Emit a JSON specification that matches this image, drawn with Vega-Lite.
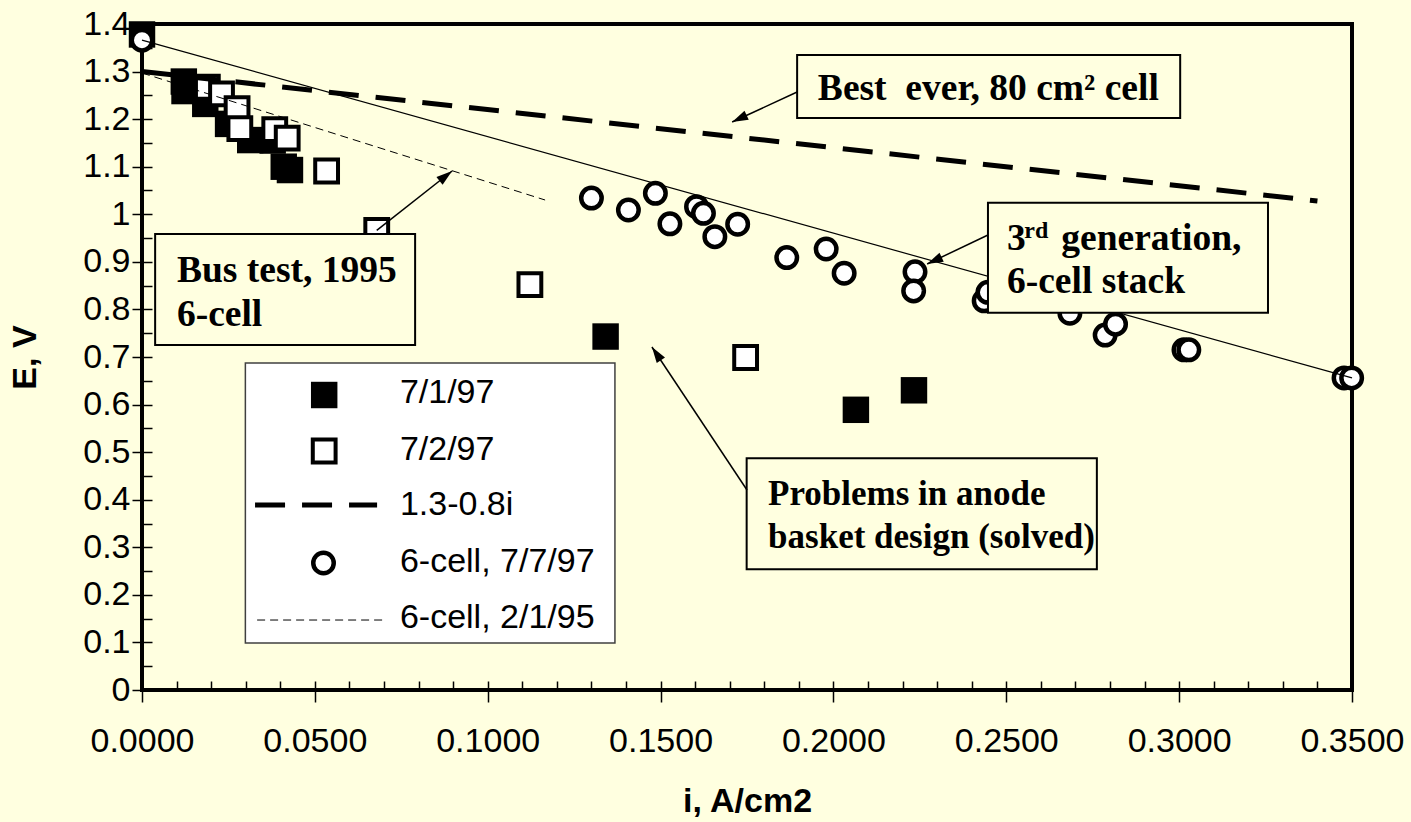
{
  "$schema": "https://vega.github.io/schema/vega-lite/v6.json",
  "width": 1210,
  "height": 666,
  "autosize": "none",
  "padding": {"left": 142, "top": 24, "right": 59, "bottom": 132},
  "background": "#FFFFE0",
  "config": {
    "view": {"stroke": "#000000", "strokeWidth": 4, "fill": "#FFFFE0"},
    "axis": {
      "grid": false,
      "domain": false,
      "labelFont": "Liberation Sans",
      "labelFontSize": 34,
      "labelColor": "#000000",
      "tickColor": "#000000",
      "tickWidth": 1.5,
      "titleFont": "Liberation Sans",
      "titleFontSize": 34,
      "titleFontWeight": "bold",
      "titleColor": "#000000"
    }
  },
  "datasets": {
    "obs": [
      {"series": "7/1/97", "i": 0.0, "E": 1.378},
      {"series": "7/1/97", "i": 0.0121, "E": 1.279},
      {"series": "7/1/97", "i": 0.0123, "E": 1.259},
      {"series": "7/1/97", "i": 0.0183, "E": 1.232},
      {"series": "7/1/97", "i": 0.0249, "E": 1.19},
      {"series": "7/1/97", "i": 0.0313, "E": 1.156},
      {"series": "7/1/97", "i": 0.0378, "E": 1.155},
      {"series": "7/1/97", "i": 0.041, "E": 1.1},
      {"series": "7/1/97", "i": 0.0428, "E": 1.093},
      {"series": "7/1/97", "i": 0.1341, "E": 0.743},
      {"series": "7/1/97", "i": 0.2065, "E": 0.589},
      {"series": "7/1/97", "i": 0.2233, "E": 0.63},
      {"series": "7/2/97", "i": 0.0189, "E": 1.267},
      {"series": "7/2/97", "i": 0.023, "E": 1.253},
      {"series": "7/2/97", "i": 0.0275, "E": 1.222},
      {"series": "7/2/97", "i": 0.0283, "E": 1.18},
      {"series": "7/2/97", "i": 0.0384, "E": 1.178},
      {"series": "7/2/97", "i": 0.042, "E": 1.16},
      {"series": "7/2/97", "i": 0.0534, "E": 1.091},
      {"series": "7/2/97", "i": 0.0679, "E": 0.966},
      {"series": "7/2/97", "i": 0.1122, "E": 0.852},
      {"series": "7/2/97", "i": 0.1746, "E": 0.699},
      {"series": "6-cell, 7/7/97", "i": 0.0, "E": 1.366},
      {"series": "6-cell, 7/7/97", "i": 0.13, "E": 1.034},
      {"series": "6-cell, 7/7/97", "i": 0.1407, "E": 1.009},
      {"series": "6-cell, 7/7/97", "i": 0.1485, "E": 1.044},
      {"series": "6-cell, 7/7/97", "i": 0.1527, "E": 0.98},
      {"series": "6-cell, 7/7/97", "i": 0.1604, "E": 1.016},
      {"series": "6-cell, 7/7/97", "i": 0.1624, "E": 1.002},
      {"series": "6-cell, 7/7/97", "i": 0.1657, "E": 0.953},
      {"series": "6-cell, 7/7/97", "i": 0.1723, "E": 0.979},
      {"series": "6-cell, 7/7/97", "i": 0.1865, "E": 0.909},
      {"series": "6-cell, 7/7/97", "i": 0.1979, "E": 0.927},
      {"series": "6-cell, 7/7/97", "i": 0.2031, "E": 0.876},
      {"series": "6-cell, 7/7/97", "i": 0.2236, "E": 0.879},
      {"series": "6-cell, 7/7/97", "i": 0.2232, "E": 0.839},
      {"series": "6-cell, 7/7/97", "i": 0.2436, "E": 0.818},
      {"series": "6-cell, 7/7/97", "i": 0.2447, "E": 0.836},
      {"series": "6-cell, 7/7/97", "i": 0.2684, "E": 0.792},
      {"series": "6-cell, 7/7/97", "i": 0.2786, "E": 0.746},
      {"series": "6-cell, 7/7/97", "i": 0.2816, "E": 0.769},
      {"series": "6-cell, 7/7/97", "i": 0.3014, "E": 0.715},
      {"series": "6-cell, 7/7/97", "i": 0.3028, "E": 0.715},
      {"series": "6-cell, 7/7/97", "i": 0.3477, "E": 0.656},
      {"series": "6-cell, 7/7/97", "i": 0.3499, "E": 0.656},
      {"series": "7/1/97", "part": "key", "i": 0.0527, "E": 0.6201},
      {"series": "7/2/97", "part": "key", "i": 0.0527, "E": 0.5024},
      {"series": "6-cell, 7/7/97", "part": "key", "i": 0.0525, "E": 0.267}
    ],
    "lines": [
      {"series": "1.3-0.8i", "part": "data", "i": 0.0, "E": 1.3},
      {"series": "1.3-0.8i", "part": "data", "i": 0.34, "E": 1.028},
      {"series": "1.3-0.8i", "part": "key", "i": 0.0327, "E": 0.3889},
      {"series": "1.3-0.8i", "part": "key", "i": 0.068, "E": 0.3889},
      {"series": "6-cell, 2/1/95", "part": "data", "i": 0.0, "E": 1.297},
      {"series": "6-cell, 2/1/95", "part": "data", "i": 0.1166, "E": 1.03},
      {"series": "6-cell, 2/1/95", "part": "key", "i": 0.0333, "E": 0.1471},
      {"series": "6-cell, 2/1/95", "part": "key", "i": 0.0697, "E": 0.1471},
      {"series": "trend", "part": "data", "i": 0.0, "E": 1.366},
      {"series": "trend", "part": "data", "i": 0.35, "E": 0.656}
    ],
    "boxes": [
      {"name": "legend", "i": 0.0299, "i2": 0.1368, "E": 0.6874, "E2": 0.0988},
      {"name": "best", "i": 0.1895, "i2": 0.3003, "E": 1.3349, "E2": 1.2024},
      {"name": "bus", "i": 0.0038, "i2": 0.079, "E": 0.9586, "E2": 0.7252},
      {"name": "gen3", "i": 0.2447, "i2": 0.3257, "E": 1.0244, "E2": 0.7931},
      {"name": "problems", "i": 0.1749, "i2": 0.2762, "E": 0.4871, "E2": 0.2537}
    ],
    "notes": [
      {"box": "best", "label": "Best\u00a0 ever, 80 cm\u00b2 cell", "i": 0.1955, "E": 1.2394},
      {"box": "bus", "label": "Bus test, 1995", "i": 0.0101, "E": 0.8583},
      {"box": "bus", "label": "6-cell", "i": 0.0101, "E": 0.7652},
      {"box": "gen3", "label": "3", "i": 0.2502, "E": 0.9249},
      {"box": "gen3", "label": "generation,", "i": 0.2659, "E": 0.9249},
      {"box": "gen3", "label": "6-cell stack", "i": 0.2502, "E": 0.8339},
      {"box": "problems", "label": "Problems in anode", "i": 0.1811, "E": 0.3889},
      {"box": "problems", "label": "basket design (solved)", "i": 0.1811, "E": 0.2979}
    ],
    "sups": [
      {"label": "rd", "i": 0.2552, "E": 0.9495}
    ],
    "keyLabels": [
      {"label": "7/1/97", "i": 0.0746, "E": 0.6026},
      {"label": "7/2/97", "i": 0.0746, "E": 0.4835},
      {"label": "1.3-0.8i", "i": 0.0746, "E": 0.3679},
      {"label": "6-cell, 7/7/97", "i": 0.0746, "E": 0.2487},
      {"label": "6-cell, 2/1/95", "i": 0.0746, "E": 0.1297}
    ],
    "arrows": [
      {"name": "best", "i": 0.1895, "E": 1.257, "i2": 0.1707, "E2": 1.194},
      {"name": "bus", "i": 0.0679, "E": 0.966, "i2": 0.0897, "E2": 1.091},
      {"name": "gen3", "i": 0.2447, "E": 0.9565, "i2": 0.2271, "E2": 0.8955},
      {"name": "problems", "i": 0.175, "E": 0.4204, "i2": 0.1475, "E2": 0.721}
    ]
  },
  "encoding": {
    "x": {"field": "i", "type": "quantitative", "scale": {"domain": [0, 0.35], "nice": false, "zero": false}, "axis": null},
    "y": {"field": "E", "type": "quantitative", "scale": {"domain": [0, 1.4], "nice": false, "zero": false}, "axis": null}
  },
  "resolve": {"axis": {"x": "independent", "y": "independent"}},
  "layer": [
    {
      "data": {"name": "boxes"},
      "transform": [{"filter": "datum.name === 'legend'"}],
      "mark": {"type": "rect", "fill": "#FFFFFF", "stroke": "#404040", "strokeWidth": 1.5},
      "encoding": {"x2": {"field": "i2"}, "y2": {"field": "E2"}}
    },
    {
      "data": {"name": "obs"},
      "transform": [{"filter": "datum.series === '7/1/97'"}],
      "mark": {"type": "point", "shape": "square", "filled": true, "fill": "#000000", "strokeWidth": 0, "size": 700, "opacity": 1},
      "encoding": {
        "x": {"field": "i", "type": "quantitative", "scale": {"domain": [0, 0.35], "nice": false, "zero": false},
          "axis": {"orient": "bottom", "values": [0, 0.05, 0.1, 0.15, 0.2, 0.25, 0.3, 0.35], "format": ".4f", "tickSize": 12, "labelPadding": 22, "labelFlush": false, "labelOverlap": false, "title": "i, A/cm2", "titleY": 121, "titleBaseline": "alphabetic"}},
        "y": {"field": "E", "type": "quantitative", "scale": {"domain": [0, 1.4], "nice": false, "zero": false},
          "axis": {"orient": "left", "values": [0, 0.1, 0.2, 0.3, 0.4, 0.5, 0.6, 0.7, 0.8, 0.9, 1, 1.1, 1.2, 1.3, 1.4], "format": "~g", "tickSize": 10, "labelPadding": 2, "labelFlush": false, "labelOverlap": false, "title": "E, V", "titleAngle": 270, "titleX": -107, "titleY": 333, "titleAlign": "center", "titleBaseline": "alphabetic"}}
      }
    },
    {
      "data": {"name": "obs"},
      "transform": [{"filter": "datum.series === '7/2/97'"}],
      "mark": {"type": "point", "shape": "square", "filled": true, "fill": "#FFFFFF", "stroke": "#000000", "strokeWidth": 4, "size": 520, "opacity": 1},
      "encoding": {
        "x": {"field": "i", "type": "quantitative", "scale": {"domain": [0, 0.35], "nice": false, "zero": false},
          "axis": {"orient": "bottom", "values": [0, 0.01, 0.02, 0.03, 0.04, 0.05, 0.06, 0.07, 0.08, 0.09, 0.1, 0.11, 0.12, 0.13, 0.14, 0.15, 0.16, 0.17, 0.18, 0.19, 0.2, 0.21, 0.22, 0.23, 0.24, 0.25, 0.26, 0.27, 0.28, 0.29, 0.3, 0.31, 0.32, 0.33, 0.34, 0.35], "labels": false, "tickSize": -9, "title": null}},
        "y": {"field": "E", "type": "quantitative", "scale": {"domain": [0, 1.4], "nice": false, "zero": false},
          "axis": {"orient": "left", "values": [0, 0.05, 0.1, 0.15, 0.2, 0.25, 0.3, 0.35, 0.4, 0.45, 0.5, 0.55, 0.6, 0.65, 0.7, 0.75, 0.8, 0.85, 0.9, 0.95, 1, 1.05, 1.1, 1.15, 1.2, 1.25, 1.3, 1.35, 1.4], "labels": false, "tickSize": -10, "title": null}}
      }
    },
    {
      "data": {"name": "lines"},
      "transform": [{"filter": "datum.series === '1.3-0.8i'"}],
      "mark": {"type": "line", "color": "#000000", "strokeWidth": 5, "strokeDash": [30, 17]},
      "encoding": {"detail": {"field": "part"}}
    },
    {
      "data": {"name": "lines"},
      "transform": [{"filter": "datum.series === '6-cell, 2/1/95'"}],
      "mark": {"type": "line", "color": "#000000", "strokeWidth": 1, "strokeDash": [8, 5]},
      "encoding": {"detail": {"field": "part"}}
    },
    {
      "data": {"name": "obs"},
      "transform": [{"filter": "datum.series === '6-cell, 7/7/97'"}],
      "mark": {"type": "point", "shape": "circle", "filled": true, "fill": "#FFFFFF", "stroke": "#000000", "strokeWidth": 4.5, "size": 420, "opacity": 1}
    },
    {
      "data": {"name": "lines"},
      "transform": [{"filter": "datum.series === 'trend'"}],
      "mark": {"type": "line", "color": "#000000", "strokeWidth": 1.2},
      "encoding": {}
    },
    {
      "data": {"name": "boxes"},
      "transform": [{"filter": "datum.name !== 'legend'"}],
      "mark": {"type": "rect", "fill": "#FFFFE0", "stroke": "#000000", "strokeWidth": 2},
      "encoding": {"x2": {"field": "i2"}, "y2": {"field": "E2"}}
    },
    {
      "data": {"name": "notes"},
      "transform": [{"filter": "datum.box !== 'problems'"}],
      "mark": {"type": "text", "align": "left", "baseline": "alphabetic", "font": "Liberation Serif", "fontWeight": "bold", "fontSize": 37.5, "color": "#000000"},
      "encoding": {"text": {"field": "label"}}
    },
    {
      "data": {"name": "notes"},
      "transform": [{"filter": "datum.box === 'problems'"}],
      "mark": {"type": "text", "align": "left", "baseline": "alphabetic", "font": "Liberation Serif", "fontWeight": "bold", "fontSize": 35, "color": "#000000"},
      "encoding": {"text": {"field": "label"}}
    },
    {
      "data": {"name": "sups"},
      "mark": {"type": "text", "align": "left", "baseline": "alphabetic", "font": "Liberation Serif", "fontWeight": "bold", "fontSize": 24, "color": "#000000"},
      "encoding": {"text": {"field": "label"}}
    },
    {
      "data": {"name": "keyLabels"},
      "mark": {"type": "text", "align": "left", "baseline": "alphabetic", "font": "Liberation Sans", "fontSize": 34, "color": "#000000"},
      "encoding": {"text": {"field": "label"}}
    },
    {
      "data": {"name": "arrows"},
      "mark": {"type": "rule", "color": "#000000", "strokeWidth": 1.5},
      "encoding": {"x2": {"field": "i2"}, "y2": {"field": "E2"}}
    },
    {
      "data": {"name": "arrows"},
      "transform": [{"filter": "datum.name === 'best'"}],
      "mark": {"type": "point", "shape": "M0,0L-1,3.2L1,3.2Z", "filled": true, "fill": "#000000", "strokeWidth": 0, "size": 100, "opacity": 1, "angle": 245},
      "encoding": {"x": {"field": "i2", "type": "quantitative"}, "y": {"field": "E2", "type": "quantitative"}}
    },
    {
      "data": {"name": "arrows"},
      "transform": [{"filter": "datum.name === 'bus'"}],
      "mark": {"type": "point", "shape": "M0,0L-1,3.2L1,3.2Z", "filled": true, "fill": "#000000", "strokeWidth": 0, "size": 100, "opacity": 1, "angle": 52},
      "encoding": {"x": {"field": "i2", "type": "quantitative"}, "y": {"field": "E2", "type": "quantitative"}}
    },
    {
      "data": {"name": "arrows"},
      "transform": [{"filter": "datum.name === 'gen3'"}],
      "mark": {"type": "point", "shape": "M0,0L-1,3.2L1,3.2Z", "filled": true, "fill": "#000000", "strokeWidth": 0, "size": 100, "opacity": 1, "angle": 245},
      "encoding": {"x": {"field": "i2", "type": "quantitative"}, "y": {"field": "E2", "type": "quantitative"}}
    },
    {
      "data": {"name": "arrows"},
      "transform": [{"filter": "datum.name === 'problems'"}],
      "mark": {"type": "point", "shape": "M0,0L-1,3.2L1,3.2Z", "filled": true, "fill": "#000000", "strokeWidth": 0, "size": 100, "opacity": 1, "angle": 326},
      "encoding": {"x": {"field": "i2", "type": "quantitative"}, "y": {"field": "E2", "type": "quantitative"}}
    }
  ]
}
